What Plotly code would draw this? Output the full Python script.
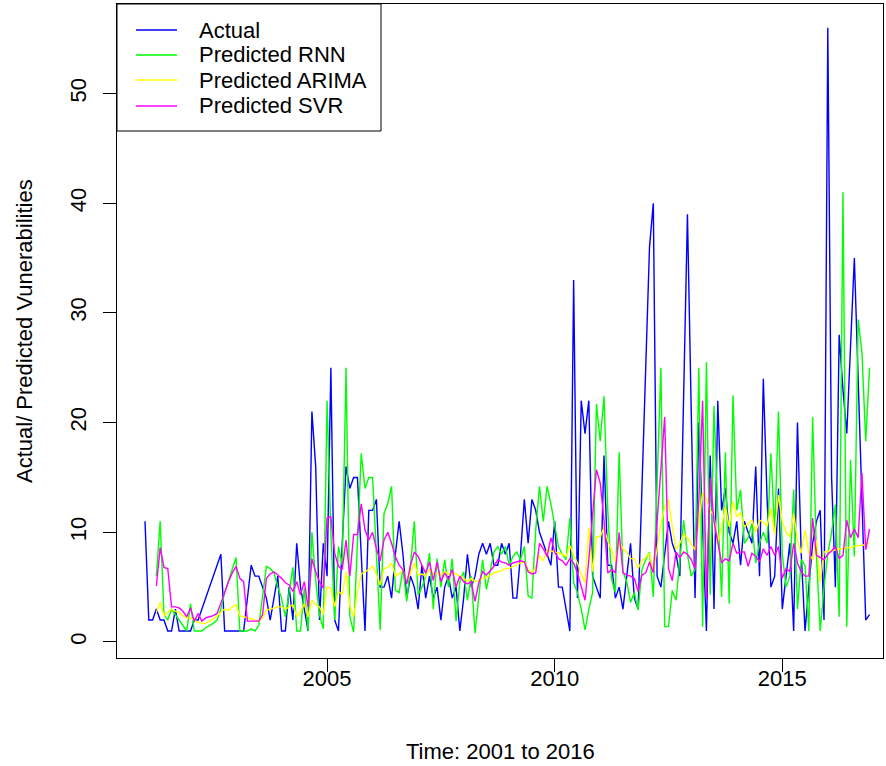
import numpy as np
import plotly.graph_objects as go

# Monthly series, January 2001 to December 2016
start_year = 2001
actual = [
    11, 2, 2, 3, 2, 2, 1, 1, 3, 1,
    1, 1, 1, 2, 2, 3, 4, 5, 6, 7,
    8, 1, 1, 1, 1, 1, 1, 4, 7, 6,
    6, 5, 4, 2, 4, 6, 1, 1, 5, 2,
    9, 5, 3, 1, 21, 16, 2, 9, 6, 25,
    2, 1, 9, 16, 14, 15, 15, 8, 1, 12,
    12, 13, 5, 5, 6, 4, 8, 11, 8, 4,
    6, 5, 3, 7, 4, 6, 4, 5, 2, 5,
    6, 4, 5, 1, 4, 8, 5, 6, 8, 9,
    8, 9, 7, 7, 9, 8, 9, 4, 4, 8,
    13, 9, 13, 12, 10, 9, 8, 7, 11, 5,
    5, 3, 1, 33, 4, 22, 19, 22, 6, 5,
    4, 17, 7, 7, 4, 5, 3, 6, 9, 4,
    3, 14, 25, 36, 40, 6, 5, 8, 11, 9,
    8, 6, 22, 39, 21, 4, 20, 10, 1, 17,
    3, 22, 12, 14, 10, 9, 11, 7, 11, 10,
    9, 16, 6, 24, 13, 5, 6, 14, 3, 6,
    9, 1, 20, 8, 1, 5, 9, 11, 12, 2,
    56, 15, 5, 28, 23, 19, 27, 35, 24, 13,
    2, 2.5,
]

# Model predictions begin with the fourth month
pred_offset = 3
pred_rnn = [
    6, 11, 2.5, 2, 3, 2.5, 2, 1.5, 1, 3.5,
    1, 1, 1, 1.3, 1.5, 1.7, 2, 3, 4.5, 5.5,
    6.5, 7.7, 1, 1, 1, 1.2, 1, 1.5, 4, 6.9,
    6.7, 6.3, 5, 4, 2.3, 4.5, 6.8, 1, 1, 4.9,
    1, 10, 5.6, 2.5, 1.2, 22, 10, 2, 8.7, 7,
    25, 2.3, 0.9, 9, 17.2, 14, 15, 15, 8, 1.1,
    11.7, 12.6, 14.2, 4.7, 4.5, 6.7, 3.7, 7, 11, 4.3,
    5, 6, 8.1, 3, 7.6, 5, 7.5, 5, 7.6, 1.9,
    5.5, 6.4, 3.8, 6, 0.8, 4, 7.5, 4.8, 6.5, 8.2,
    8.7, 8, 8.7, 7, 7.8, 8.2, 7.5, 8.7, 4.2, 4,
    10.2, 14.2, 11, 14.2, 12.6, 10.5, 8.7, 8, 7.5, 11.3,
    5.4, 4.5, 3, 1.1, 3, 4.5, 21.7, 18.3, 22.4, 12,
    5.7, 4.5, 17.3, 6.4, 5.5, 3.6, 4.5, 2.9, 6.6, 7.5,
    8.2, 4.1, 14, 25, 1.4, 1.4, 4.7, 3.8, 7.5, 11.1,
    8, 6, 6.6, 25, 1.4, 25.5, 4.3, 21.5, 12, 4.1,
    17.3, 3.5, 22.5, 12, 13.9, 9, 9.5, 10.8, 7.2, 9,
    10, 9, 17.2, 10, 21, 8, 5, 6, 13.9, 3,
    7.5, 7, 1, 20.5, 8, 1, 5, 8, 10, 12.5,
    2.3, 41, 1.4, 16.6, 7.8, 29.4, 26.4, 18.3, 25,
]
pred_arima = [
    2.7, 3.6, 2.4, 2.7, 3, 2.8, 2.7, 2.4, 2.2, 2.2,
    2, 1.8, 1.7, 1.7, 1.9, 2.1, 2.4, 2.7, 3, 2.9,
    3.2, 3.4, 2.4, 2.3, 2.2, 2.1, 2, 1.9, 2.2, 2.9,
    3, 3.1, 3.2, 3.2, 3, 3.2, 3.4, 2.3, 2.8, 3.5,
    2.3, 3.8, 3.4, 3.2, 2.5, 5, 4.9, 3.2, 4.6, 4.3,
    6.4, 3.3, 2.3, 4.5, 6.2, 6.4, 6.6, 6.9, 6.2, 5.2,
    6.7, 6.8, 7.2, 6, 6.2, 6.6, 5.5, 6.3, 7.2, 6.1,
    6.2, 6, 6.6, 6.2, 6.3, 6.1, 6.4, 6.2, 6.3, 6.2,
    6, 5.8, 5.5, 5.8, 5.5, 5.6, 5.8, 5.9, 6.1, 6.3,
    6.4, 6.5, 6.7, 6.7, 6.9, 7, 7.2, 7.3, 6.6, 6.3,
    6.8, 7.9, 7.4, 8.4, 8.3, 8.2, 8.1, 8, 7.8, 8.8,
    7.9, 7.2, 6.2, 5.4, 10.4, 6.4, 9.6, 9.6, 10.4, 9.2,
    8.4, 7.3, 9.1, 8.5, 8.2, 7.6, 7.6, 6.7, 7.4, 7.7,
    8.1, 6.4, 8.5, 10.8, 12.2, 13, 10.5, 8.4, 9, 9.8,
    9.5, 9, 8.4, 11, 13.6, 13, 12, 11.5, 9, 10.5,
    12.3, 10.5, 12.8, 11.4, 11.8, 10.5, 10.8, 11.1, 10, 11.1,
    10.9, 10.6, 12.2, 9.8, 13.4, 11, 10, 9.6, 11.7, 9.3,
    8.1, 10.2, 8.1, 7.5, 9.3, 5.4, 8.2, 8.3, 8.3, 8.4,
    8.5, 8.5, 8.6, 8.6, 8.7, 8.8, 8.8, 8.9, 9.0,
]
pred_svr = [
    5.1, 8.6, 6.8, 6.7, 3.2, 3.2, 3.1, 2.8, 2.3, 3.1,
    1.9, 2.6, 1.9, 2.2, 2.3, 2.4, 2.6, 3.5, 4.5, 5.5,
    6.3, 6.9, 5.8, 5.5, 1.9, 1.9, 1.9, 1.9, 2.5, 5.8,
    6.2, 6.4, 6.1, 5.8, 5.4, 5.2, 4.6, 5.5, 4.3, 5.5,
    3.2, 7.6, 6.4, 5.5, 4.9, 11.3, 11.4, 8.1, 6.9, 6.6,
    9.3, 6, 9.8, 9.8, 12.6, 10.2, 9.3, 10, 8.5, 7.4,
    9.3, 10, 9, 7.8, 7, 6.6, 5.3, 7, 8.2, 7.8,
    7, 6.3, 7.3, 5.6, 7.3, 5.5, 6.3, 5.7, 6.6, 5,
    6, 5.5, 5.3, 5.5, 3.7, 5.4, 6.4, 6.1, 6.5, 6.9,
    7.5, 7.3, 7.2, 7, 7.2, 7.3, 7.4, 7.3, 6.4, 6.2,
    6.3, 9, 8.5, 7.8, 9.5, 8.2, 7.6, 7.4, 7, 7.6,
    7.2, 6.3, 5, 3.8, 7.5, 11.4, 15.7, 14.5, 11.1, 6.3,
    6.6, 6.3, 10, 6.3, 6.1, 6, 5.8, 4.6, 6.1, 6.3,
    7.3, 6.3, 11, 15.4, 20.5, 6.7, 5.6, 8.2, 7.7, 8.2,
    8, 7.5, 6.7, 13, 22, 4, 15, 11, 9, 7.2,
    7.6, 7.4, 9, 8.1, 8.2, 8.2, 6.9, 8.1, 7.8, 7.3,
    8.5, 7.9, 8.7, 7.9, 8.7, 5.8, 6.7, 6.4, 9, 7.2,
    6.4, 6, 6, 11.3, 7.9, 7.7, 7.5, 8, 8.3, 8.7,
    7.6, 7.9, 11.1, 9.5, 10.3, 9.5, 15.4, 8.4, 10.3,
]

x_ticks = [2005, 2010, 2015]
y_ticks = [0, 10, 20, 30, 40, 50]

series = [
    ("Actual", actual, 0, "#0000FF"),
    ("Predicted RNN", pred_rnn, pred_offset, "#00FF00"),
    ("Predicted ARIMA", pred_arima, pred_offset, "#FFFF00"),
    ("Predicted SVR", pred_svr, pred_offset, "#FF00FF"),
]

FONT = "Liberation Sans, Arial, Helvetica, sans-serif"
W, H = 886, 766
ML, MR, MT, MB = 117, 3, 4, 108
PW, PH = W - ML - MR, H - MT - MB

fig = go.Figure()
for name, vals, off, color in series:
    t = start_year + (np.arange(len(vals)) + off) / 12.0
    fig.add_trace(go.Scatter(
        x=t, y=vals, mode="lines", name=name,
        line=dict(color=color, width=1.4), showlegend=False,
    ))

# axis ranges padded around the data like a base-graphics plot
px_per_year = 45.52
x_lo = start_year - 28.0 / px_per_year
x_hi = x_lo + PW / px_per_year
y_lo, y_hi = -1.46, 58.16

axis_common = dict(
    showgrid=False, zeroline=False, showline=True, mirror=True,
    linecolor="black", linewidth=1, ticks="outside", ticklen=13,
    tickwidth=1, tickcolor="black",
    tickfont=dict(family=FONT, size=22, color="black"),
)
fig.update_xaxes(range=[x_lo, x_hi], tickvals=x_ticks,
                 ticktext=[str(v) for v in x_ticks],
                 ticklabelstandoff=-12, **axis_common)
fig.update_yaxes(range=[y_lo, y_hi], tickvals=y_ticks,
                 ticktext=[str(v) for v in y_ticks], tickangle=-90,
                 ticklabelstandoff=8, **axis_common)

# legend box drawn in plot-paper coordinates
def px_x(p):
    return (p - ML) / PW

def px_y(p):
    return 1 - (p - MT) / PH

shapes = [dict(type="rect", xref="paper", yref="paper",
               x0=px_x(117), x1=px_x(381), y0=px_y(131), y1=px_y(4),
               line=dict(color="black", width=1), fillcolor="white",
               layer="above")]
annotations = []
rows = [30, 55, 80, 106]
for (name, _, _, color), ry in zip(series, rows):
    shapes.append(dict(type="line", xref="paper", yref="paper",
                       x0=px_x(136), x1=px_x(177), y0=px_y(ry), y1=px_y(ry),
                       line=dict(color=color, width=1.4), layer="above"))
    annotations.append(dict(xref="paper", yref="paper", x=px_x(197),
                            y=px_y(ry), text=name, showarrow=False,
                            xanchor="left", yanchor="middle",
                            font=dict(family=FONT, size=22, color="black")))

annotations.append(dict(xref="paper", yref="paper", x=0.5, y=px_y(751),
                        text="Time: 2001 to 2016", showarrow=False,
                        xanchor="center", yanchor="middle",
                        font=dict(family=FONT, size=22, color="black")))
annotations.append(dict(xref="paper", yref="paper", x=px_x(24), y=0.5,
                        text="Actual/ Predicted Vunerabilities",
                        showarrow=False, textangle=-90,
                        xanchor="center", yanchor="middle",
                        font=dict(family=FONT, size=22, color="black")))

fig.update_layout(
    width=W, height=H,
    margin=dict(l=ML, r=MR, t=MT, b=MB, pad=0),
    paper_bgcolor="white", plot_bgcolor="white",
    shapes=shapes, annotations=annotations, showlegend=False,
)

fig.write_html("out.html")
